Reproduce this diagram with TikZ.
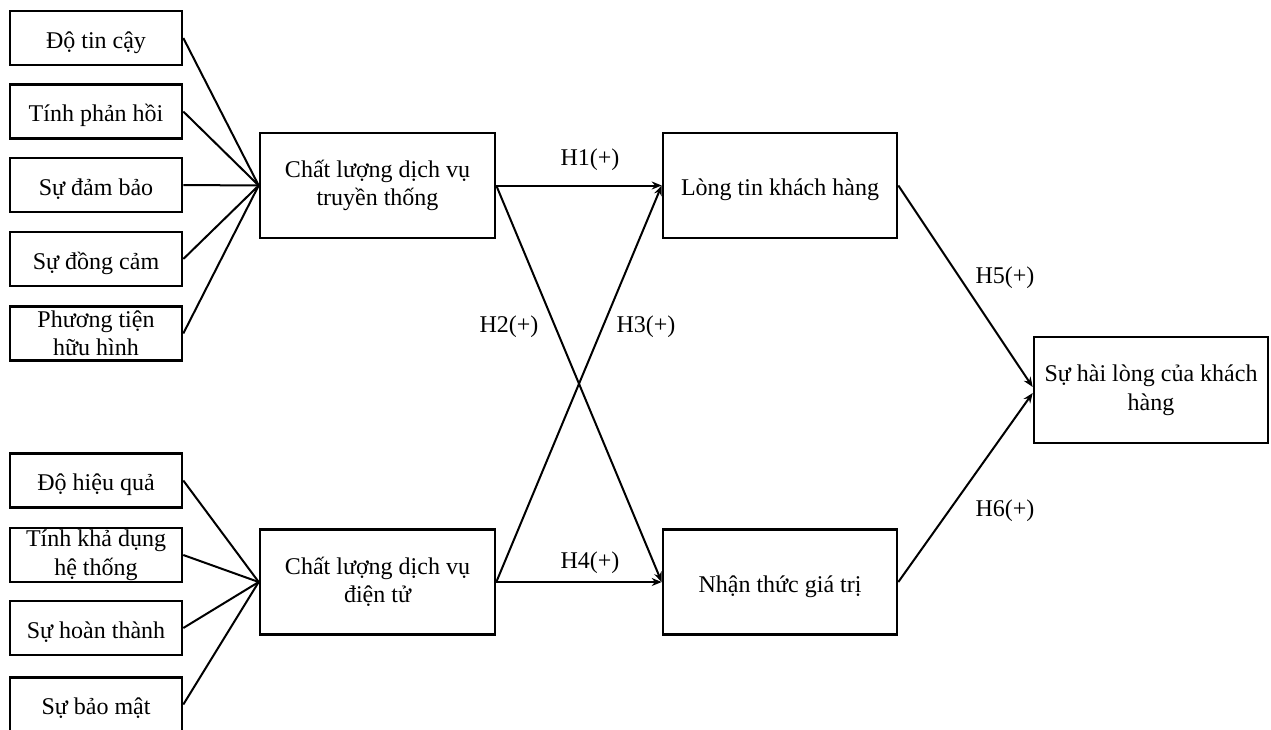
\documentclass[tikz,border=0pt]{standalone}
\usepackage{fontspec}
\setmainfont{Liberation Serif}
\usetikzlibrary{arrows.meta}
\begin{document}
\begin{tikzpicture}[x=1pt,y=-1pt,
  font=\fontsize{24}{28.5}\selectfont,
  box/.style={draw, line width=2.6pt, align=center, inner sep=0pt, minimum width=172pt, minimum height=54pt},
  one/.style={text height=20pt, text depth=0pt},
  mid/.style={draw, line width=2.6pt, align=center, inner sep=0pt, minimum width=235pt, minimum height=105pt},
  conn/.style={line width=2pt},
  arr/.style={line width=2pt, -{Stealth[length=10pt,width=8pt]}},
  lab/.style={inner sep=0pt}]
\useasboundingbox (0,0) rectangle (1271,729);
% left boxes (top group)
\node[box,one] (a1) at (96,38) {Độ tin cậy};
\node[box,one] (a2) at (96,111.5) {Tính phản hồi};
\node[box,one] (a3) at (96,185) {Sự đảm bảo};
\node[box,one] (a4) at (96,259) {Sự đồng cảm};
\node[box] (a5) at (96,333.5) {Phương tiện\\hữu hình};
% left boxes (bottom group)
\node[box,one] (b1) at (96,480.5) {Độ hiệu quả};
\node[box] (b2) at (96,555) {Tính khả dụng\\hệ thống};
\node[box,one] (b3) at (96,628) {Sự hoàn thành};
\node[box,one] (b4) at (96,704.5) {Sự bảo mật};
% middle boxes
\node[mid] (c1) at (377.5,185.5) {Chất lượng dịch vụ\\truyền thống};
\node[mid] (c2) at (377.5,582) {Chất lượng dịch vụ\\điện tử};
\node[mid,one, minimum width=234pt] (d1) at (780,185.5) {Lòng tin khách hàng};
\node[mid,one, minimum width=234pt] (d2) at (780,582) {Nhận thức giá trị};
\node[mid, minimum width=234pt, minimum height=106pt] (e) at (1151,390) {Sự hài lòng của khách\\hàng};
% connectors
\foreach \n in {a1,a2,a3,a4,a5} \draw[conn] (\n.east) -- (c1.west);
\foreach \n in {b1,b2,b3,b4} \draw[conn] (\n.east) -- (c2.west);
\draw[arr] (c1.east) -- (d1.west);
\draw[arr] (c2.east) -- (d2.west);
\draw[arr] (c1.east) -- (d2.west);
\draw[arr] (c2.east) -- (d1.west);
\draw[arr] (d1.east) -- ([yshift=3pt]e.west);
\draw[arr] (d2.east) -- ([yshift=-3pt]e.west);
% labels
\node[lab] (h1) at (590,160) {H1(+)};
\node[lab] (h4) at (590,563) {H4(+)};
\node[lab] (h2) at (509,327) {H2(+)};
\node[lab] (h3) at (646,327) {H3(+)};
\node[lab] (h5) at (1005,278) {H5(+)};
\node[lab] (h6) at (1005,511) {H6(+)};
\end{tikzpicture}
\end{document}
